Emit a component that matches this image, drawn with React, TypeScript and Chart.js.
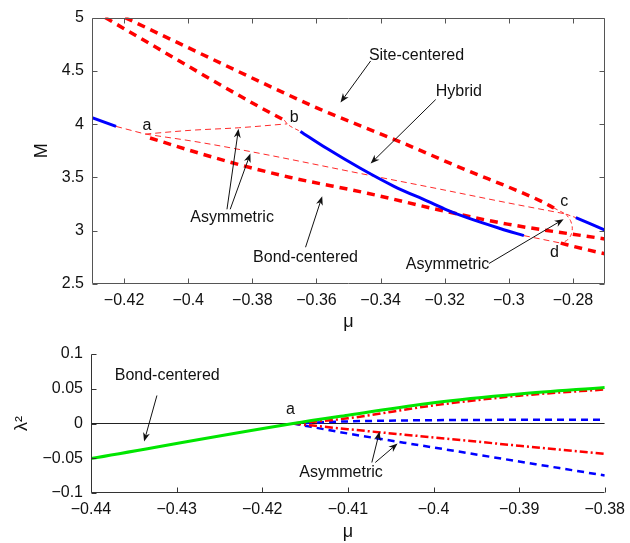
import React, { useEffect, useRef } from "react";
import { Chart, registerables } from "chart.js";

Chart.register(...registerables);

const FONT_FAMILY = "'Liberation Sans', Arial, Helvetica, sans-serif";

// ---------------- Top panel: M versus μ ----------------
const topMuTicks = [-0.42, -0.4, -0.38, -0.36, -0.34, -0.32, -0.3, -0.28];
const topMTicks = [2.5, 3, 3.5, 4, 4.5, 5];

const siteCenteredMu = [-0.4197, -0.3703, -0.3588, -0.3338, -0.3159, -0.29, -0.2859];
const siteCenteredM = [5.0, 4.296, 4.139, 3.833, 3.602, 3.278, 3.213];

const upperToBMu = [-0.4259, -0.3775, -0.37];
const upperToBM = [5.0, 4.157, 4.037];

const bondCenteredMu = [-0.4119, -0.3963, -0.3838, -0.3681, -0.3441, -0.3213, -0.3004, -0.27];
const bondCenteredM = [3.87, 3.725, 3.618, 3.5, 3.352, 3.192, 3.062, 2.923];

const asymABMu = [-0.4134, -0.3994, -0.3844, -0.3691];
const asymABM = [3.907, 3.942, 3.966, 4.003];

const asymACMu = [-0.4134, -0.3963, -0.3775, -0.3463, -0.3213, -0.3004, -0.2822];
const asymACM = [3.907, 3.829, 3.725, 3.537, 3.389, 3.262, 3.157];

const hybridMu = [-0.365, -0.3567, -0.3463, -0.3358, -0.3254, -0.3192, -0.3128, -0.3025, -0.2953];
const hybridM = [3.932, 3.771, 3.586, 3.417, 3.278, 3.194, 3.12, 3.019, 2.954];

const stableLeftMu = [-0.43, -0.4225];
const stableLeftM = [4.06, 3.979];

const stableRightMu = [-0.2791, -0.27];
const stableRightM = [3.123, 3.006];

const joinAMu = [-0.4225, -0.4134];
const joinAM = [3.979, 3.907];

const joinBMu = [-0.37, -0.3691, -0.365];
const joinBM = [4.037, 4.003, 3.932];

const joinCMu = [-0.2859, -0.2822, -0.2791];
const joinCM = [3.213, 3.157, 3.123];

const loopCDMu = [-0.2822, -0.2806, -0.2803, -0.2816, -0.2838];
const loopCDM = [3.157, 3.083, 2.991, 2.917, 2.884];

const joinDMu = [-0.2953, -0.2838];
const joinDM = [2.954, 2.884];

const lowerRightMu = [-0.2838, -0.2769, -0.27];
const lowerRightM = [2.884, 2.831, 2.784];

// ---------------- Bottom panel: λ² versus μ ----------------
const botMuTicks = [-0.44, -0.43, -0.42, -0.41, -0.4, -0.39, -0.38];
const botLambdaTicks = [-0.1, -0.05, 0, 0.05, 0.1];

const bondLambdaMu = [-0.44, -0.4164, -0.41, -0.4, -0.39, -0.38];
const bondLambda = [-0.0504, 0, 0.012, 0.03, 0.0425, 0.0518];

const asymMu = [-0.4164, -0.41, -0.4, -0.39, -0.38];
const asymRedUpper = [0, 0.0075, 0.026, 0.04, 0.049];
const asymBlueUpper = [0, 0.003, 0.0048, 0.0053, 0.0055];
const asymRedLower = [0, -0.0082, -0.02, -0.032, -0.0437];
const asymBlueLower = [0, -0.0144, -0.0345, -0.0547, -0.0748];

const zeroMu = [-0.44, -0.38];
const zeroLambda = [0, 0];

// ---------------- Annotations (data coordinates) ----------------
type Note = { text: string; mu: number; v: number };
type Arrow = { mu0: number; v0: number; mu1: number; v1: number };

const topNotes: Note[] = [
  { text: "Site-centered", mu: -0.3288, v: 4.648 },
  { text: "Hybrid", mu: -0.3156, v: 4.306 },
  { text: "Asymmetric", mu: -0.3863, v: 3.12 },
  { text: "Bond-centered", mu: -0.3634, v: 2.75 },
  { text: "Asymmetric", mu: -0.3191, v: 2.685 },
  { text: "a", mu: -0.4129, v: 3.99 },
  { text: "b", mu: -0.3669, v: 4.065 },
  { text: "c", mu: -0.2827, v: 3.27 },
  { text: "d", mu: -0.2858, v: 2.799 },
];
const topArrows: Arrow[] = [
  { mu0: -0.3431, v0: 4.593, mu1: -0.3525, v1: 4.204 },
  { mu0: -0.3228, v0: 4.231, mu1: -0.3431, v1: 3.63 },
  { mu0: -0.3879, v0: 3.201, mu1: -0.3843, v1: 3.957 },
  { mu0: -0.3869, v0: 3.201, mu1: -0.3806, v1: 3.725 },
  { mu0: -0.3634, v0: 2.845, mu1: -0.3582, v1: 3.324 },
  { mu0: -0.3062, v0: 2.692, mu1: -0.2829, v1: 3.108 },
];

const botNotes: Note[] = [
  { text: "Bond-centered", mu: -0.4311, v: 0.069 },
  { text: "a", mu: -0.4167, v: 0.0195 },
  { text: "Asymmetric", mu: -0.4108, v: -0.0705 },
];
const botArrows: Arrow[] = [
  { mu0: -0.4323, v0: 0.0403, mu1: -0.4338, v1: -0.0259 },
  { mu0: -0.4072, v0: -0.0561, mu1: -0.4063, v1: -0.0115 },
  { mu0: -0.4068, v0: -0.0561, mu1: -0.4042, v1: -0.0288 },
];

// ---------------- helpers ----------------
const fmt = (v: number) => (v < 0 ? "\u2212" : "") + String(Math.abs(v));

const RED = "#ff0000";
const THIN_RED = "#ff2a2a";
const BLUE = "#0000ff";
const GREEN = "#00e600";

function series(xs: number[], ys: number[], color: string, width: number, dash: number[], extra: any = {}) {
  return {
    data: xs.map((x, i) => ({ x, y: ys[i] })),
    borderColor: color,
    backgroundColor: color,
    borderWidth: width,
    borderDash: dash,
    borderCapStyle: "butt",
    pointRadius: 0,
    showLine: true,
    fill: false,
    cubicInterpolationMode: "monotone",
    ...extra,
  };
}

function framePlugin(box: boolean, axisColor: string, notes: Note[], arrows: Arrow[]) {
  return {
    id: "frameNotes",
    afterDraw(chart: any) {
      const { ctx, chartArea: a } = chart;
      const xs = chart.scales.x;
      const ys = chart.scales.y;
      const L = Math.round(a.left) + 0.5;
      const R = Math.round(a.right) - 0.5;
      const T = Math.round(a.top) + 0.5;
      const B = Math.round(a.bottom) - 0.5;
      const tl = 5;
      ctx.save();
      ctx.strokeStyle = axisColor;
      ctx.lineWidth = 1;
      ctx.beginPath();
      if (box) {
        ctx.rect(L, T, R - L, B - T);
      } else {
        ctx.moveTo(L, T);
        ctx.lineTo(L, B);
        ctx.lineTo(R, B);
      }
      for (const t of xs.ticks) {
        const px = Math.round(xs.getPixelForValue(t.value)) + 0.5;
        ctx.moveTo(px, B);
        ctx.lineTo(px, B - tl);
        if (box) {
          ctx.moveTo(px, T);
          ctx.lineTo(px, T + tl);
        }
      }
      for (const t of ys.ticks) {
        const py = Math.round(ys.getPixelForValue(t.value)) + 0.5;
        ctx.moveTo(L, py);
        ctx.lineTo(L + tl, py);
        if (box) {
          ctx.moveTo(R, py);
          ctx.lineTo(R - tl, py);
        }
      }
      ctx.stroke();

      // arrows
      ctx.strokeStyle = "#111";
      ctx.fillStyle = "#111";
      ctx.lineWidth = 1;
      for (const ar of arrows) {
        const x0 = xs.getPixelForValue(ar.mu0);
        const y0 = ys.getPixelForValue(ar.v0);
        const x1 = xs.getPixelForValue(ar.mu1);
        const y1 = ys.getPixelForValue(ar.v1);
        const ang = Math.atan2(y1 - y0, x1 - x0);
        const c = Math.cos(ang);
        const s = Math.sin(ang);
        const hl = 9;
        const hw = 3.5;
        ctx.beginPath();
        ctx.moveTo(x0, y0);
        ctx.lineTo(x1 - hl * 0.6 * c, y1 - hl * 0.6 * s);
        ctx.stroke();
        ctx.beginPath();
        ctx.moveTo(x1, y1);
        ctx.lineTo(x1 - hl * c + hw * s, y1 - hl * s - hw * c);
        ctx.lineTo(x1 - hl * 0.7 * c, y1 - hl * 0.7 * s);
        ctx.lineTo(x1 - hl * c - hw * s, y1 - hl * s + hw * c);
        ctx.closePath();
        ctx.fill();
      }

      // text notes
      ctx.font = `16px ${FONT_FAMILY}`;
      ctx.textAlign = "center";
      ctx.textBaseline = "middle";
      ctx.fillStyle = "#111";
      for (const n of notes) {
        ctx.fillText(n.text, xs.getPixelForValue(n.mu), ys.getPixelForValue(n.v));
      }
      ctx.restore();
    },
  };
}

function axisFont() {
  return { family: FONT_FAMILY, size: 16 };
}
function titleFont() {
  return { family: FONT_FAMILY, size: 18 };
}

function topConfig(): any {
  return {
    type: "scatter",
    data: {
      datasets: [
        series(stableLeftMu, stableLeftM, BLUE, 3, []),
        series(hybridMu, hybridM, BLUE, 3, []),
        series(stableRightMu, stableRightM, BLUE, 3, []),
        series(siteCenteredMu, siteCenteredM, RED, 3.5, [8, 6]),
        series(upperToBMu, upperToBM, RED, 3.5, [8, 6]),
        series(bondCenteredMu, bondCenteredM, RED, 3.5, [8, 6]),
        series(lowerRightMu, lowerRightM, RED, 3.5, [8, 6]),
        series(asymABMu, asymABM, THIN_RED, 1, [6, 4]),
        series(asymACMu, asymACM, THIN_RED, 1, [6, 4]),
        series(joinAMu, joinAM, THIN_RED, 1, [6, 4]),
        series(joinBMu, joinBM, THIN_RED, 1, [4, 3]),
        series(joinCMu, joinCM, THIN_RED, 1, [4, 3]),
        series(loopCDMu, loopCDM, THIN_RED, 1, [4, 3], { cubicInterpolationMode: "default", tension: 0.4 }),
        series(joinDMu, joinDM, THIN_RED, 1, [6, 4]),
      ],
    },
    options: {
      responsive: false,
      animation: false,
      devicePixelRatio: 1,
      events: [],
      layout: { padding: { left: 0, right: 25, top: 14, bottom: 0 } },
      plugins: { legend: { display: false }, tooltip: { enabled: false } },
      scales: {
        x: {
          type: "linear",
          min: -0.43,
          max: -0.27,
          afterBuildTicks: (s: any) => {
            s.ticks = topMuTicks.map((v) => ({ value: v }));
          },
          afterFit: (s: any) => {
            s.height = 51;
          },
          grid: { display: false, drawTicks: false, tickLength: 0 },
          border: { display: false },
          ticks: { callback: (v: any) => fmt(Number(v)), padding: 7, font: axisFont(), color: "#111", maxRotation: 0, autoSkip: false },
          title: { display: true, text: "μ", font: titleFont(), color: "#111", padding: { top: 0, bottom: 2 } },
        },
        y: {
          type: "linear",
          min: 2.5,
          max: 5,
          afterBuildTicks: (s: any) => {
            s.ticks = topMTicks.map((v) => ({ value: v }));
          },
          afterFit: (s: any) => {
            s.width = 92;
          },
          grid: { display: false, drawTicks: false, tickLength: 0 },
          border: { display: false },
          ticks: { callback: (v: any) => fmt(Number(v)), padding: 8, font: axisFont(), color: "#111", autoSkip: false },
          title: { display: true, text: "M", font: titleFont(), color: "#111", padding: { top: 31, bottom: 0 } },
        },
      },
    },
    plugins: [framePlugin(true, "#555", topNotes, topArrows)],
  };
}

function bottomConfig(): any {
  return {
    type: "scatter",
    data: {
      datasets: [
        series(bondLambdaMu, bondLambda, GREEN, 3, []),
        series(asymMu, asymRedUpper, RED, 2.5, [8, 3, 2, 3]),
        series(asymMu, asymBlueUpper, BLUE, 2.5, [7, 5]),
        series(asymMu, asymRedLower, RED, 2.5, [8, 3, 2, 3]),
        series(asymMu, asymBlueLower, BLUE, 2.5, [7, 5]),
        series(zeroMu, zeroLambda, "#222", 1, []),
      ],
    },
    options: {
      responsive: false,
      animation: false,
      devicePixelRatio: 1,
      events: [],
      layout: { padding: { left: 0, right: 27, top: 19, bottom: 0 } },
      plugins: { legend: { display: false }, tooltip: { enabled: false } },
      scales: {
        x: {
          type: "linear",
          min: -0.44,
          max: -0.38,
          afterBuildTicks: (s: any) => {
            s.ticks = botMuTicks.map((v) => ({ value: v }));
          },
          afterFit: (s: any) => {
            s.height = 50;
          },
          grid: { display: false, drawTicks: false, tickLength: 0 },
          border: { display: false },
          ticks: { callback: (v: any) => fmt(Number(v)), padding: 7, font: axisFont(), color: "#111", maxRotation: 0, autoSkip: false },
          title: { display: true, text: "μ", font: titleFont(), color: "#111", padding: { top: 0, bottom: 0 } },
        },
        y: {
          type: "linear",
          min: -0.1,
          max: 0.1,
          afterBuildTicks: (s: any) => {
            s.ticks = botLambdaTicks.map((v) => ({ value: v }));
          },
          afterFit: (s: any) => {
            s.width = 91;
          },
          grid: { display: false, drawTicks: false, tickLength: 0 },
          border: { display: false },
          ticks: { callback: (v: any) => fmt(Number(v)), padding: 8, font: axisFont(), color: "#111", autoSkip: false },
          title: { display: true, text: "λ²", font: titleFont(), color: "#111", padding: { top: 11, bottom: 0 } },
        },
      },
    },
    plugins: [framePlugin(false, "#333", botNotes, botArrows)],
  };
}

function ChartCanvas(props: { width: number; height: number; top: number; makeConfig: () => any }) {
  const ref = useRef<HTMLCanvasElement>(null);
  useEffect(() => {
    const chart = new Chart(ref.current as HTMLCanvasElement, props.makeConfig());
    return () => chart.destroy();
  }, []);
  return (
    <canvas
      ref={ref}
      width={props.width}
      height={props.height}
      style={{ position: "absolute", left: 0, top: props.top, width: props.width, height: props.height, display: "block" }}
    />
  );
}

export default function App() {
  return (
    <div style={{ position: "fixed", left: 0, top: 0, width: 630, height: 543, overflow: "hidden", background: "#fff" }}>
      <ChartCanvas width={630} height={335} top={0} makeConfig={topConfig} />
      <ChartCanvas width={632} height={208} top={335} makeConfig={bottomConfig} />
    </div>
  );
}
